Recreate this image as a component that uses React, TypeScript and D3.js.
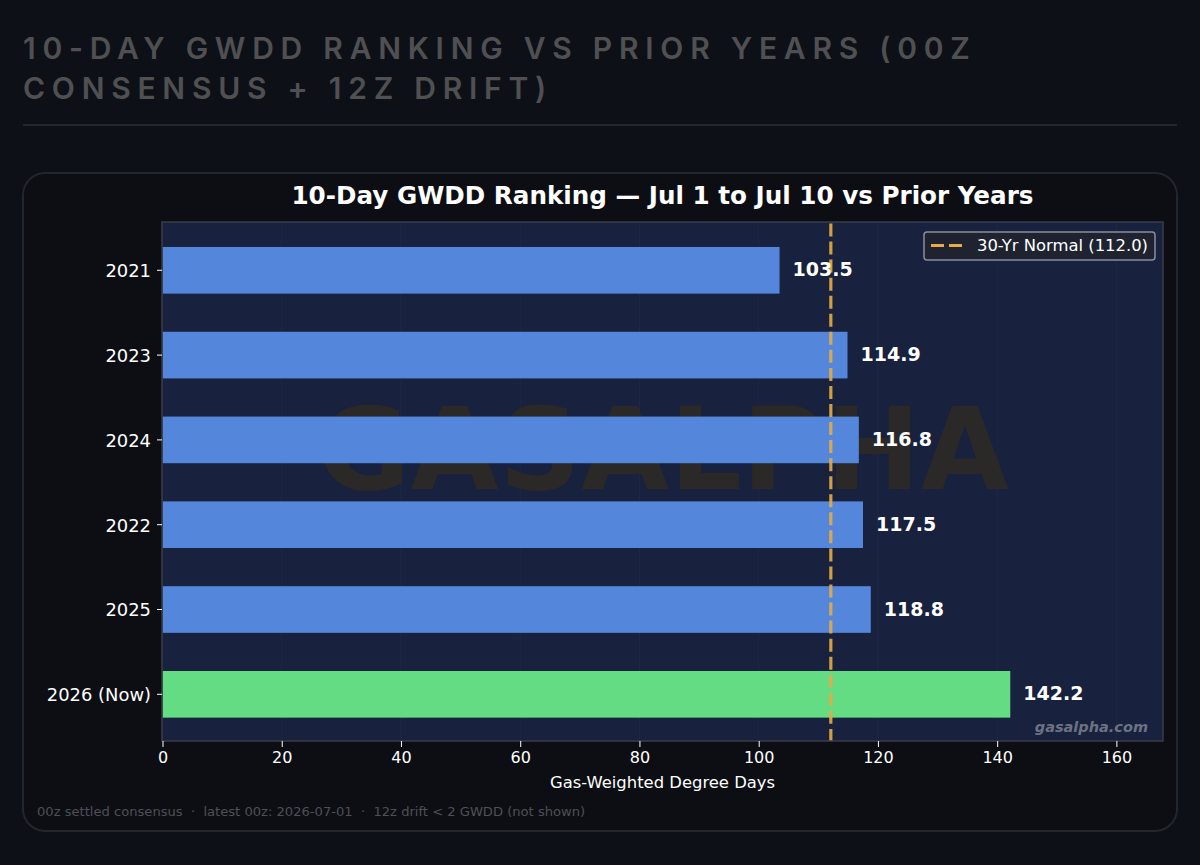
import React, { useEffect, useRef } from 'react';
import * as d3 from 'd3';

const years = ['2021', '2023', '2024', '2022', '2025', '2026 (Now)'];
const gwdd = [103.5, 114.9, 116.8, 117.5, 118.8, 142.2];
const xTicks = [0, 20, 40, 60, 80, 100, 120, 140, 160];
const normalValue = 112;
const headingLines = ['10-DAY GWDD RANKING VS PRIOR YEARS (00Z', 'CONSENSUS + 12Z DRIFT)'];
const chartTitle = '10-Day GWDD Ranking — Jul 1 to Jul 10 vs Prior Years';
const xLabel = 'Gas-Weighted Degree Days';
const legendLabel = '30-Yr Normal (112.0)';
const footerText = '00z settled consensus  ·  latest 00z: 2026-07-01  ·  12z drift < 2 GWDD (not shown)';

const WIDTH = 1200;
const HEIGHT = 865;
const DEJAVU = '"DejaVu Sans", sans-serif';

const App: React.FC = () => {
  const svgRef = useRef<SVGSVGElement>(null);

  useEffect(() => {
    if (!svgRef.current) return;
    const svg = d3.select(svgRef.current);
    svg.selectAll('*').remove();

    const plot = { left: 162, right: 1163, top: 222, bottom: 741 };
    const x = d3.scaleLinear().domain([0, 167.9]).range([plot.left + 0.5, plot.right + 0.5]);
    const y = d3.scaleBand<string>()
      .domain(years)
      .range([plot.top + 0.8, plot.bottom + 0.8])
      .paddingInner(0.45)
      .paddingOuter(0.285);

    // page + heading
    svg.append('rect').attr('width', WIDTH).attr('height', HEIGHT).attr('fill', '#0d1017');
    headingLines.forEach((line, i) => {
      svg.append('text')
        .attr('x', 23)
        .attr('y', 59 + i * 40)
        .attr('font-family', 'Inter, sans-serif')
        .attr('font-size', 30)
        .attr('font-weight', 600)
        .attr('letter-spacing', 6.75)
        .attr('fill', '#505052')
        .text(line);
    });
    svg.append('line')
      .attr('x1', 23).attr('x2', 1177).attr('y1', 125).attr('y2', 125)
      .attr('stroke', '#23262d').attr('stroke-width', 2);

    // card
    svg.append('rect')
      .attr('x', 23).attr('y', 173).attr('width', 1154).attr('height', 658)
      .attr('rx', 22)
      .attr('fill', '#0c0e14')
      .attr('stroke', '#23262d')
      .attr('stroke-width', 2);

    svg.append('text')
      .attr('x', (plot.left + plot.right) / 2)
      .attr('y', 204)
      .attr('text-anchor', 'middle')
      .attr('font-family', DEJAVU)
      .attr('font-size', 24.65)
      .attr('font-weight', 700)
      .attr('fill', '#ffffff')
      .text(chartTitle);

    // plot area
    svg.append('rect')
      .attr('x', plot.left).attr('y', plot.top)
      .attr('width', plot.right - plot.left).attr('height', plot.bottom - plot.top)
      .attr('fill', '#18213d');

    svg.append('g')
      .selectAll('line')
      .data(xTicks)
      .join('line')
      .attr('x1', d => x(d)).attr('x2', d => x(d))
      .attr('y1', plot.top).attr('y2', plot.bottom)
      .attr('stroke', '#ffffff')
      .attr('stroke-opacity', 0.03)
      .attr('stroke-width', 1);

    svg.append('text')
      .attr('x', 663)
      .attr('y', 489)
      .attr('text-anchor', 'middle')
      .attr('font-family', DEJAVU)
      .attr('font-size', 114)
      .attr('font-weight', 700)
      .attr('fill', '#2a2927')
      .text('GASALPHA');

    // bars
    svg.append('g')
      .selectAll('rect')
      .data(years)
      .join('rect')
      .attr('x', x(0))
      .attr('y', d => y(d) as number)
      .attr('width', (_, i) => x(gwdd[i]) - x(0))
      .attr('height', y.bandwidth())
      .attr('fill', (_, i) => (i === years.length - 1 ? '#63dc84' : '#5487dc'));

    // normal line
    svg.append('line')
      .attr('x1', x(normalValue) + 0.6).attr('x2', x(normalValue) + 0.6)
      .attr('y1', plot.top).attr('y2', plot.bottom)
      .attr('stroke', '#e8ab45')
      .attr('stroke-opacity', 0.9)
      .attr('stroke-width', 3.2)
      .attr('stroke-dasharray', '13 5.05')
      .attr('stroke-dashoffset', -1.5);

    // value labels
    svg.append('g')
      .selectAll('text')
      .data(years)
      .join('text')
      .attr('x', (_, i) => x(gwdd[i]) + 13)
      .attr('y', d => (y(d) as number) + y.bandwidth() / 2 - 0.8)
      .attr('dy', '0.36em')
      .attr('font-family', DEJAVU)
      .attr('font-size', 19)
      .attr('font-weight', 700)
      .attr('fill', '#ffffff')
      .text((_, i) => gwdd[i].toFixed(1));

    // frame
    svg.append('rect')
      .attr('x', plot.left).attr('y', plot.top)
      .attr('width', plot.right - plot.left).attr('height', plot.bottom - plot.top)
      .attr('fill', 'none')
      .attr('stroke', '#3a3d48')
      .attr('stroke-width', 1.5);

    // axes
    const xAxis = svg.append('g')
      .attr('transform', `translate(0,${plot.bottom})`)
      .call(d3.axisBottom(x).tickValues(xTicks).tickSize(6).tickPadding(5).tickFormat(d => String(d)));
    const yAxis = svg.append('g')
      .attr('transform', `translate(${plot.left},0)`)
      .call(d3.axisLeft(y).tickSize(5).tickPadding(6));
    [xAxis, yAxis].forEach(axis => {
      axis.select('.domain').remove();
      axis.selectAll('line').attr('stroke', '#ffffff').attr('stroke-width', 1);
      axis.selectAll('text')
        .attr('fill', '#ffffff')
        .attr('font-family', DEJAVU);
    });
    xAxis.selectAll('text').attr('font-size', 16);
    yAxis.selectAll('text').attr('font-size', 17.9).attr('dy', '0.38em');

    svg.append('text')
      .attr('x', (plot.left + plot.right) / 2)
      .attr('y', 788)
      .attr('text-anchor', 'middle')
      .attr('font-family', DEJAVU)
      .attr('font-size', 16.4)
      .attr('fill', '#ffffff')
      .text(xLabel);

    // legend
    const legend = svg.append('g').attr('transform', 'translate(924,232)');
    legend.append('rect')
      .attr('width', 231).attr('height', 28).attr('rx', 3)
      .attr('fill', '#1f2330')
      .attr('stroke', '#8a8d99')
      .attr('stroke-width', 1.5);
    legend.append('line')
      .attr('x1', 7).attr('x2', 38).attr('y1', 13.5).attr('y2', 13.5)
      .attr('stroke', '#e8ab45')
      .attr('stroke-width', 3)
      .attr('stroke-dasharray', '13 5');
    legend.append('text')
      .attr('x', 53)
      .attr('y', 19)
      .attr('font-family', DEJAVU)
      .attr('font-size', 16.4)
      .attr('fill', '#ffffff')
      .text(legendLabel);

    svg.append('text')
      .attr('x', 1148)
      .attr('y', 732)
      .attr('text-anchor', 'end')
      .attr('font-family', DEJAVU)
      .attr('font-size', 14.5)
      .attr('font-style', 'italic')
      .attr('font-weight', 700)
      .attr('fill', '#6c7284')
      .text('gasalpha.com');

    svg.append('text')
      .attr('x', 37)
      .attr('y', 816)
      .attr('font-family', DEJAVU)
      .attr('font-size', 13.1)
      .attr('fill', '#4e5056')
      .style('white-space', 'pre')
      .text(footerText);
  }, []);

  return (
    <svg
      ref={svgRef}
      width={WIDTH}
      height={HEIGHT}
      style={{ position: 'absolute', left: 0, top: 0, display: 'block' }}
    />
  );
};

export default App;
